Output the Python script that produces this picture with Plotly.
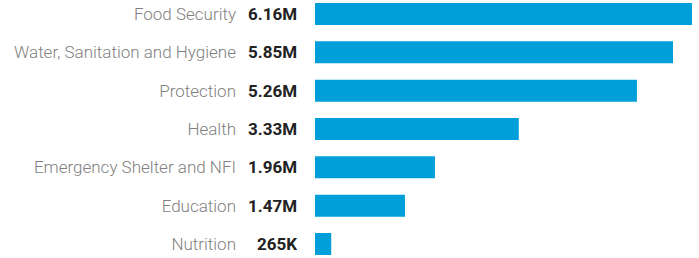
import plotly.graph_objects as go

categories = ["Food Security", "Water, Sanitation and Hygiene", "Protection", "Health",
              "Emergency Shelter and NFI", "Education", "Nutrition"]
values = [6.16, 5.85, 5.26, 3.33, 1.96, 1.47, 0.265]
value_labels = ["6.16M", "5.85M", "5.26M", "3.33M", "1.96M", "1.47M", "265K"]

idx = list(range(len(categories)))

fig = go.Figure(go.Bar(
    x=values, y=idx, orientation="h",
    marker=dict(color="#009fda", line=dict(width=0)),
    width=0.574, hoverinfo="skip",
))

for i, lab in zip(idx, value_labels):
    fig.add_annotation(x=0, y=i, xref="x", yref="y", text=lab, showarrow=False,
                       xanchor="right", yanchor="middle", xshift=-16,
                       font=dict(family="Roboto", size=17, color="#222222", weight="bold"))

fig.update_layout(
    width=699, height=258,
    margin=dict(l=315, r=7, t=0, b=0),
    paper_bgcolor="white", plot_bgcolor="white",
    showlegend=False,
    xaxis=dict(range=[0, 6.16], visible=False, fixedrange=True),
    yaxis=dict(range=[6.366, -0.365], tickvals=idx, ticktext=categories,
               showgrid=False, zeroline=False, showline=False, ticks="",
               ticklabelstandoff=78,
               tickfont=dict(family="Roboto", size=17, color="#7f7f7f", weight=300)),
)

fig.write_html("out.html", config={"displayModeBar": False},
               post_script="document.body.style.margin='0';document.body.style.overflow='hidden';")
